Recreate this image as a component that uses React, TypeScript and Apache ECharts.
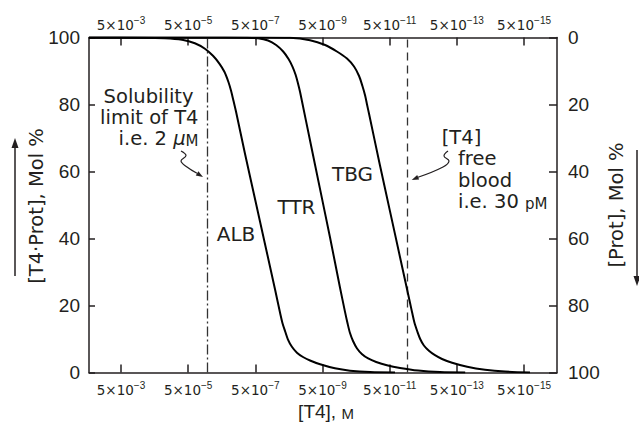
import { useEffect, useRef } from "react";
import * as echarts from "echarts";

// x values are pT4 = -log10([T4] / M); tick labels are 5×10^n
const xTickP = [2.301, 4.301, 6.301, 8.301, 10.301, 12.301, 14.301];
const xTickMantissa = "5×10";
const xTickExp = ["−3", "−5", "−7", "−9", "−11", "−13", "−15"];
const xMinP = 1.348;
const xMaxP = 15.284;

const albP = [1.35, 2.87, 3.61, 4.12, 4.5, 4.8, 5.04, 5.23, 5.38, 5.5, 5.58, 5.65, 5.73, 5.99, 6.29, 6.59, 6.89, 7.05, 7.11, 7.19, 7.27, 7.39, 7.54, 7.72, 7.93, 8.23, 8.67, 9.12, 9.72, 10.46];
const albBound = [100, 99.95, 99.79, 99.31, 98.27, 96.63, 94.54, 92.21, 89.76, 86.72, 84.03, 81.1, 77.67, 65.46, 51.88, 38.3, 24.72, 17.22, 14.72, 12.24, 9.91, 7.67, 5.91, 4.63, 3.58, 2.45, 1.25, 0.54, 0.12, 0];

const ttrP = [1.35, 5.4, 5.99, 6.38, 6.68, 6.92, 7.13, 7.29, 7.41, 7.5, 7.57, 7.63, 7.69, 7.93, 8.23, 8.53, 8.82, 8.97, 9.05, 9.12, 9.21, 9.33, 9.48, 9.66, 9.9, 10.22, 10.61, 11.15, 11.8, 12.55];
const ttrBound = [100, 100, 99.94, 99.76, 99.1, 97.76, 95.82, 93.58, 91.25, 88.87, 86.36, 83.88, 80.96, 69.25, 54.66, 40.06, 25.46, 18.18, 14.54, 11.79, 9.4, 7.16, 5.43, 4.18, 3.13, 2.15, 1.34, 0.57, 0.12, 0];

const tbgP = [1.35, 6.44, 7.33, 7.93, 8.38, 8.73, 9.03, 9.24, 9.39, 9.49, 9.57, 9.63, 9.69, 10.01, 10.31, 10.61, 10.91, 10.97, 11.04, 11.12, 11.21, 11.32, 11.47, 11.65, 11.86, 12.16, 12.61, 13.14, 13.74, 14.48];
const tbgBound = [100, 100, 99.91, 99.19, 97.76, 95.82, 93.73, 91.34, 88.51, 85.52, 82.69, 79.85, 77.07, 61.94, 48.18, 34.42, 20.66, 17.91, 14.84, 12.39, 10.0, 8.06, 6.48, 5.16, 4.03, 2.9, 1.7, 0.81, 0.27, 0];

const solubilityLimitP = 4.88;
const freeBloodP = 10.81;

const yMin = 0;
const yMax = 100;
const yStep = 20;

const INK = "#231f20";
const NUMFONT = "'Liberation Sans', Arial, Helvetica, sans-serif";
const SANS = "'DejaVu Sans', Verdana, sans-serif";

const pairs = (xs: number[], ys: number[]) => xs.map((x, i) => [x, ys[i]]);

const tickFormatter = (v: number) => {
  let best = 0;
  xTickP.forEach((t, i) => {
    if (Math.abs(t - v) < Math.abs(xTickP[best] - v)) best = i;
  });
  return `{b|${xTickMantissa}}{s|${xTickExp[best]}}`;
};

const tickRich = {
  b: { fontFamily: SANS, fontSize: 13.5, color: INK, lineHeight: 16, verticalAlign: "bottom" },
  s: { fontFamily: NUMFONT, fontSize: 10, color: INK, lineHeight: 4, verticalAlign: "top" },
};

const xAxisBase = (position: "top" | "bottom", margin: number) => ({
  type: "value",
  position,
  min: xMinP,
  max: xMaxP,
  axisLine: { show: true, onZero: false, lineStyle: { color: INK, width: 1.5 } },
  axisTick: { show: true, inside: true, length: 8, customValues: xTickP, lineStyle: { color: INK, width: 1.5 } },
  axisLabel: { show: true, customValues: xTickP, formatter: tickFormatter, margin, rich: tickRich },
  splitLine: { show: false },
});

const lineSeries = (name: string, xs: number[], ys: number[]) => ({
  name,
  type: "line",
  data: pairs(xs, ys),
  showSymbol: false,
  symbol: "none",
  smooth: 0.3,
  lineStyle: { color: "#000", width: 2 },
  z: 5,
});

const arrowHead = (tip: number[], dir: number[], len = 7, half = 2.5) => {
  const n = Math.hypot(dir[0], dir[1]);
  const ux = dir[0] / n;
  const uy = dir[1] / n;
  const bx = tip[0] - ux * len;
  const by = tip[1] - uy * len;
  return [
    [tip[0], tip[1]],
    [bx - uy * half, by + ux * half],
    [bx + uy * half, by - ux * half],
  ];
};

const txt = (x: number, y: number, text: string, align: string, extra: any = {}) => ({
  type: "text",
  x,
  y,
  style: { text, fontFamily: SANS, fontSize: 19.5, fill: INK, align, verticalAlign: "middle", ...extra },
});

export default function App() {
  const ref = useRef<HTMLDivElement>(null);
  useEffect(() => {
    const chart = echarts.init(ref.current!, null, { renderer: "svg" });
    const option: any = {
      animation: false,
      backgroundColor: "#fff",
      grid: { left: 89, right: 82, top: 37.5, bottom: 63.5, containLabel: false },
      xAxis: [xAxisBase("bottom", 8), xAxisBase("top", 6)],
      yAxis: [
        {
          type: "value",
          position: "left",
          min: yMin,
          max: yMax,
          interval: yStep,
          axisLine: { show: true, lineStyle: { color: INK, width: 1.5 } },
          axisTick: { show: true, inside: true, length: 6, lineStyle: { color: INK, width: 1.5 } },
          axisLabel: { fontFamily: NUMFONT, fontSize: 19, color: INK, margin: 9 },
          splitLine: { show: false },
        },
        {
          type: "value",
          position: "right",
          inverse: true,
          min: yMin,
          max: yMax,
          interval: yStep,
          axisLine: { show: true, lineStyle: { color: INK, width: 1.5 } },
          axisTick: { show: true, inside: true, length: 8, lineStyle: { color: INK, width: 1.5 } },
          axisLabel: { fontFamily: NUMFONT, fontSize: 19, color: INK, margin: 11 },
          splitLine: { show: false },
        },
      ],
      series: [
        {
          ...lineSeries("ALB", albP, albBound),
          markLine: {
            silent: true,
            symbol: "none",
            label: { show: false },
            data: [
              { xAxis: solubilityLimitP, lineStyle: { type: [10, 3, 2, 3], color: "#333", width: 1.3 } },
              { xAxis: freeBloodP, lineStyle: { type: [8, 5], color: "#333", width: 1.3 } },
            ],
          },
        },
        lineSeries("TTR", ttrP, ttrBound),
        lineSeries("TBG", tbgP, tbgBound),
      ],
      graphic: [
        // axis titles
        { ...txt(36, 206, "[T4·Prot], Mol %", "center"), rotation: Math.PI / 2 },
        { ...txt(616, 205, "[Prot], Mol %", "center"), rotation: Math.PI / 2 },
        {
          type: "text",
          x: 326,
          y: 410,
          style: {
            text: "{a|[T4], }{m|M}",
            align: "center",
            verticalAlign: "middle",
            rich: {
              a: { fontFamily: NUMFONT, fontSize: 19, fill: INK, lineHeight: 22, verticalAlign: "bottom" },
              m: { fontFamily: NUMFONT, fontSize: 15, fill: INK, lineHeight: 19, verticalAlign: "bottom" },
            },
          },
        },
        // side arrows
        { type: "line", shape: { x1: 15, y1: 276, x2: 15, y2: 146 }, style: { stroke: INK, lineWidth: 1.5 } },
        { type: "polygon", shape: { points: arrowHead([15, 138], [0, -1], 10, 3.5) }, style: { fill: INK } },
        { type: "line", shape: { x1: 637, y1: 150, x2: 637, y2: 278 }, style: { stroke: INK, lineWidth: 1.5 } },
        { type: "polygon", shape: { points: arrowHead([637, 286], [0, 1], 10, 3.5) }, style: { fill: INK } },
        // curve labels
        txt(236, 234, "ALB", "center", { fontSize: 20 }),
        txt(296.5, 207, "TTR", "center", { fontSize: 20 }),
        txt(352.5, 174, "TBG", "center", { fontSize: 20 }),
        // solubility annotation
        txt(193.5, 96, "Solubility", "right"),
        txt(198.5, 117, "limit of T4", "right"),
        {
          type: "text",
          x: 198.5,
          y: 138,
          style: {
            text: "{t|i.e. 2 }{i|μ}{m|M}",
            align: "right",
            verticalAlign: "middle",
            rich: {
              t: { fontFamily: SANS, fontSize: 19.5, fill: INK, lineHeight: 21, verticalAlign: "bottom" },
              i: { fontFamily: SANS, fontSize: 19.5, fontStyle: "italic", fill: INK, lineHeight: 21, verticalAlign: "bottom" },
              m: { fontFamily: SANS, fontSize: 15, fill: INK, lineHeight: 19, verticalAlign: "bottom" },
            },
          },
        },
        {
          type: "polyline",
          shape: { points: [[181, 151], [186, 155.5], [181, 161], [187, 167], [197, 173.3]], smooth: 0.4 },
          style: { stroke: INK, lineWidth: 1.2, fill: null },
        },
        { type: "polygon", shape: { points: arrowHead([203, 177], [16, 10]) }, style: { fill: INK } },
        // free T4 annotation
        txt(441.7, 137.5, "[T4]", "left"),
        txt(458, 158.5, "free", "left"),
        txt(458, 180, "blood", "left"),
        {
          type: "text",
          x: 458,
          y: 201,
          style: {
            text: "{t|i.e. 30 }{m|pM}",
            align: "left",
            verticalAlign: "middle",
            rich: {
              t: { fontFamily: SANS, fontSize: 19.5, fill: INK, lineHeight: 21, verticalAlign: "bottom" },
              m: { fontFamily: SANS, fontSize: 15, fill: INK, lineHeight: 19, verticalAlign: "bottom" },
            },
          },
        },
        {
          type: "polyline",
          shape: { points: [[448, 151], [444, 156], [449, 161], [443, 167], [418, 177.3]], smooth: 0.4 },
          style: { stroke: INK, lineWidth: 1.2, fill: null },
        },
        { type: "polygon", shape: { points: arrowHead([411.7, 180], [-31.3, 13]) }, style: { fill: INK } },
      ],
    };
    chart.setOption(option);
    return () => chart.dispose();
  }, []);
  return <div ref={ref} style={{ position: "fixed", left: 0, top: 0, width: 639, height: 436 }} />;
}
